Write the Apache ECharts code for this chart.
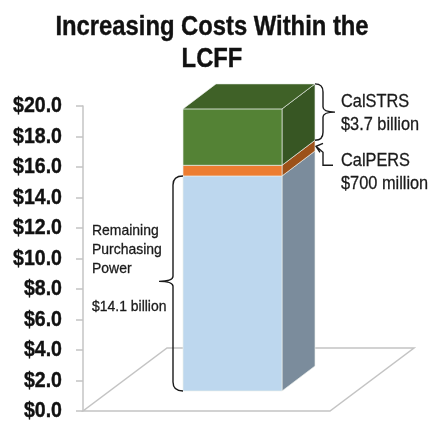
<!DOCTYPE html>
<html>
<head>
<meta charset="utf-8">
<style>html,body{margin:0;padding:0;background:#fff}#chart{width:431px;height:421px}</style>
<script src="https://cdn.jsdelivr.net/npm/echarts@6/dist/echarts.min.js"></script>
</head>
<body>
<div id="chart"></div>
<script>
// LCFF funding in billions of dollars, stacked from the bottom up
const segmentNames = ['Remaining Purchasing Power', 'CalPERS', 'CalSTRS'];
const segmentValues = [14.1, 0.7, 3.7];
const axisTicks = [0, 2, 4, 6, 8, 10, 12, 14, 16, 18, 20];

const FONT = '"Liberation Sans", Arial, sans-serif';
const palette = {
  'Remaining Purchasing Power': { front: '#bdd7ee', side: '#7b8c9c', top: '#bdd7ee' },
  'CalPERS': { front: '#ed7d31', side: '#9c5119', top: '#ed7d31' },
  'CalSTRS': { front: '#548235', side: '#375623', top: '#3f6127' }
};

// 3D projection in pixels: front-face lift off the floor edge, and receding depth
const LIFT = { x: 100, y: -20 };
const BAR_W = 99;
const DEPTH = { x: 33, y: -25 };
const FLOOR = { x: 84, y: -63 };

let running = 0;
const segments = segmentValues.map((v, i) => {
  const s = [i, running, running + v];
  running += v;
  return s;
});
const total = running;

function poly(points, fill, stroke) {
  return {
    type: 'polygon',
    shape: { points },
    style: { fill, stroke: stroke || null, lineWidth: stroke ? 1 : 0 }
  };
}
function path(d, width) {
  return {
    type: 'path',
    shape: { pathData: d },
    style: { fill: null, stroke: '#1a1a1a', lineWidth: width || 1.4 }
  };
}

function frontLeft(api, value) {
  const p = api.coord([0, value]);
  return [p[0] + LIFT.x, p[1] + LIFT.y];
}

function renderFloor(params, api) {
  const a = api.coord([0, 0]);
  const b = api.coord([1, 0]);
  const pts = [a, b, [b[0] + FLOOR.x, b[1] + FLOOR.y], [a[0] + FLOOR.x, a[1] + FLOOR.y]];
  return {
    type: 'polygon',
    shape: { points: pts },
    style: { fill: 'none', stroke: '#c4c4c4', lineWidth: 1.5 }
  };
}

function renderSegment(params, api) {
  const idx = api.value(0);
  const colors = palette[segmentNames[idx]];
  const lo = frontLeft(api, api.value(1));
  const hi = frontLeft(api, api.value(2));
  const edge = 'rgba(235,240,235,0.65)';
  const xL = lo[0], xR = lo[0] + BAR_W;
  const children = [
    poly([[xR, hi[1]], [xR + DEPTH.x, hi[1] + DEPTH.y], [xR + DEPTH.x, lo[1] + DEPTH.y], [xR, lo[1]]], colors.side, edge),
    poly([[xL, hi[1]], [xR, hi[1]], [xR, lo[1]], [xL, lo[1]]], colors.front, edge)
  ];
  if (idx === segments.length - 1) {
    children.push(poly([[xL, hi[1]], [xL + DEPTH.x, hi[1] + DEPTH.y], [xR + DEPTH.x, hi[1] + DEPTH.y], [xR, hi[1]]], colors.top, edge));
  }
  return { type: 'group', children };
}

// Braces and the leader line that tie each segment to its caption
function renderNotes(params, api) {
  const bottom = frontLeft(api, 0);
  const blueTop = frontLeft(api, segmentValues[0]);
  const pensTop = frontLeft(api, segmentValues[0] + segmentValues[1]);
  const stackTop = frontLeft(api, total);

  const bx = bottom[0] - 10;
  const bMid = blueTop[1] + (bottom[1] - blueTop[1]) * 0.49;
  const leftBrace =
    `M${bottom[0]} ${blueTop[1]} Q${bx} ${blueTop[1]} ${bx} ${blueTop[1] + 9}` +
    `L${bx} ${bMid - 5} Q${bx} ${bMid} ${bx - 14} ${bMid} Q${bx} ${bMid} ${bx} ${bMid + 5}` +
    `L${bx} ${bottom[1] - 9} Q${bx} ${bottom[1]} ${bottom[0]} ${bottom[1]}`;

  const rEdge = bottom[0] + BAR_W + DEPTH.x;
  const rTop = stackTop[1] + DEPTH.y;
  const rBot = pensTop[1] + DEPTH.y;
  const rMid = (rTop + rBot) / 2;
  const rx = rEdge + 8;
  const rightBrace =
    `M${rEdge} ${rTop} Q${rx} ${rTop} ${rx} ${rTop + 8}` +
    `L${rx} ${rMid - 5} Q${rx} ${rMid} ${rx + 12} ${rMid} Q${rx} ${rMid} ${rx} ${rMid + 5}` +
    `L${rx} ${rBot - 8} Q${rx} ${rBot} ${rEdge} ${rBot}`;

  const tipY = pensTop[1] + DEPTH.y + 6;
  const tipX = rEdge + 1;
  const leader =
    `M${tipX} ${tipY} L${tipX + 7} ${tipY + 6} L${tipX + 7} ${tipY + 19} L${tipX + 17} ${tipY + 19}` +
    `M${tipX + 7} ${tipY - 3} L${tipX} ${tipY} L${tipX + 4} ${tipY + 6}`;

  return {
    type: 'group',
    children: [path(leftBrace), path(rightBrace), path(leader)]
  };
}

// Dollar labels set in a condensed bold face, placed through the value axis
function renderTickLabel(params, api) {
  const value = api.value(0);
  const p = api.coord([0, value]);
  return {
    type: 'text',
    x: p[0] - 21, y: p[1],
    scaleX: 0.89,
    style: {
      text: '$' + value.toFixed(1),
      font: `bold 22px ${FONT}`,
      fill: '#111',
      stroke: '#111',
      lineWidth: 0.4,
      align: 'right',
      verticalAlign: 'middle'
    }
  };
}

function heading(text, y) {
  return {
    type: 'text', x: 212, y, scaleX: 0.85,
    style: { text, font: `bold 28px ${FONT}`, fill: '#111', stroke: '#111', lineWidth: 0.4, align: 'center', verticalAlign: 'middle' }
  };
}

function caption(text, x, y, size, sx) {
  return {
    type: 'text', x, y, scaleX: sx,
    style: { text, font: `${size}px ${FONT}`, fill: '#1a1a1a', stroke: '#1a1a1a', lineWidth: 0.3, verticalAlign: 'middle' }
  };
}

const chart = echarts.init(document.getElementById('chart'), null, { renderer: 'canvas' });
chart.setOption({
  animation: false,
  backgroundColor: '#fff',
  grid: { left: 83, top: 106, width: 247, height: 305 },
  xAxis: { type: 'value', min: 0, max: 1, show: false },
  yAxis: {
    type: 'value', min: axisTicks[0], max: axisTicks[axisTicks.length - 1], interval: 2,
    axisLine: { show: true, lineStyle: { color: '#c4c4c4', width: 1.5 } },
    axisTick: { show: true, length: 7, lineStyle: { color: '#c4c4c4', width: 1.5 } },
    splitLine: { show: false },
    axisLabel: { show: false }
  },
  series: [
    { type: 'custom', name: 'Floor', silent: true, clip: false, z: 1, data: [[0]], renderItem: renderFloor },
    { type: 'custom', name: 'LCFF', silent: true, clip: false, z: 2, data: segments, renderItem: renderSegment },
    { type: 'custom', name: 'Notes', silent: true, clip: false, z: 3, data: [[0]], renderItem: renderNotes },
    { type: 'custom', name: 'Ticks', silent: true, clip: false, z: 3, data: axisTicks.map(t => [t]), renderItem: renderTickLabel }
  ],
  graphic: [
    heading('Increasing Costs Within the', 27),
    heading('LCFF', 59),
    caption('CalSTRS', 341, 102, 19, 0.86),
    caption('$3.7 billion', 341, 125, 19, 0.86),
    caption('CalPERS', 341, 161, 19, 0.86),
    caption('$700 million', 341, 184, 19, 0.86),
    caption('Remaining', 92, 231, 15, 0.93),
    caption('Purchasing', 92, 250, 15, 0.93),
    caption('Power', 92, 269, 15, 0.93),
    caption('$14.1 billion', 92, 307, 15, 0.93)
  ]
});
</script>
</body>
</html>
